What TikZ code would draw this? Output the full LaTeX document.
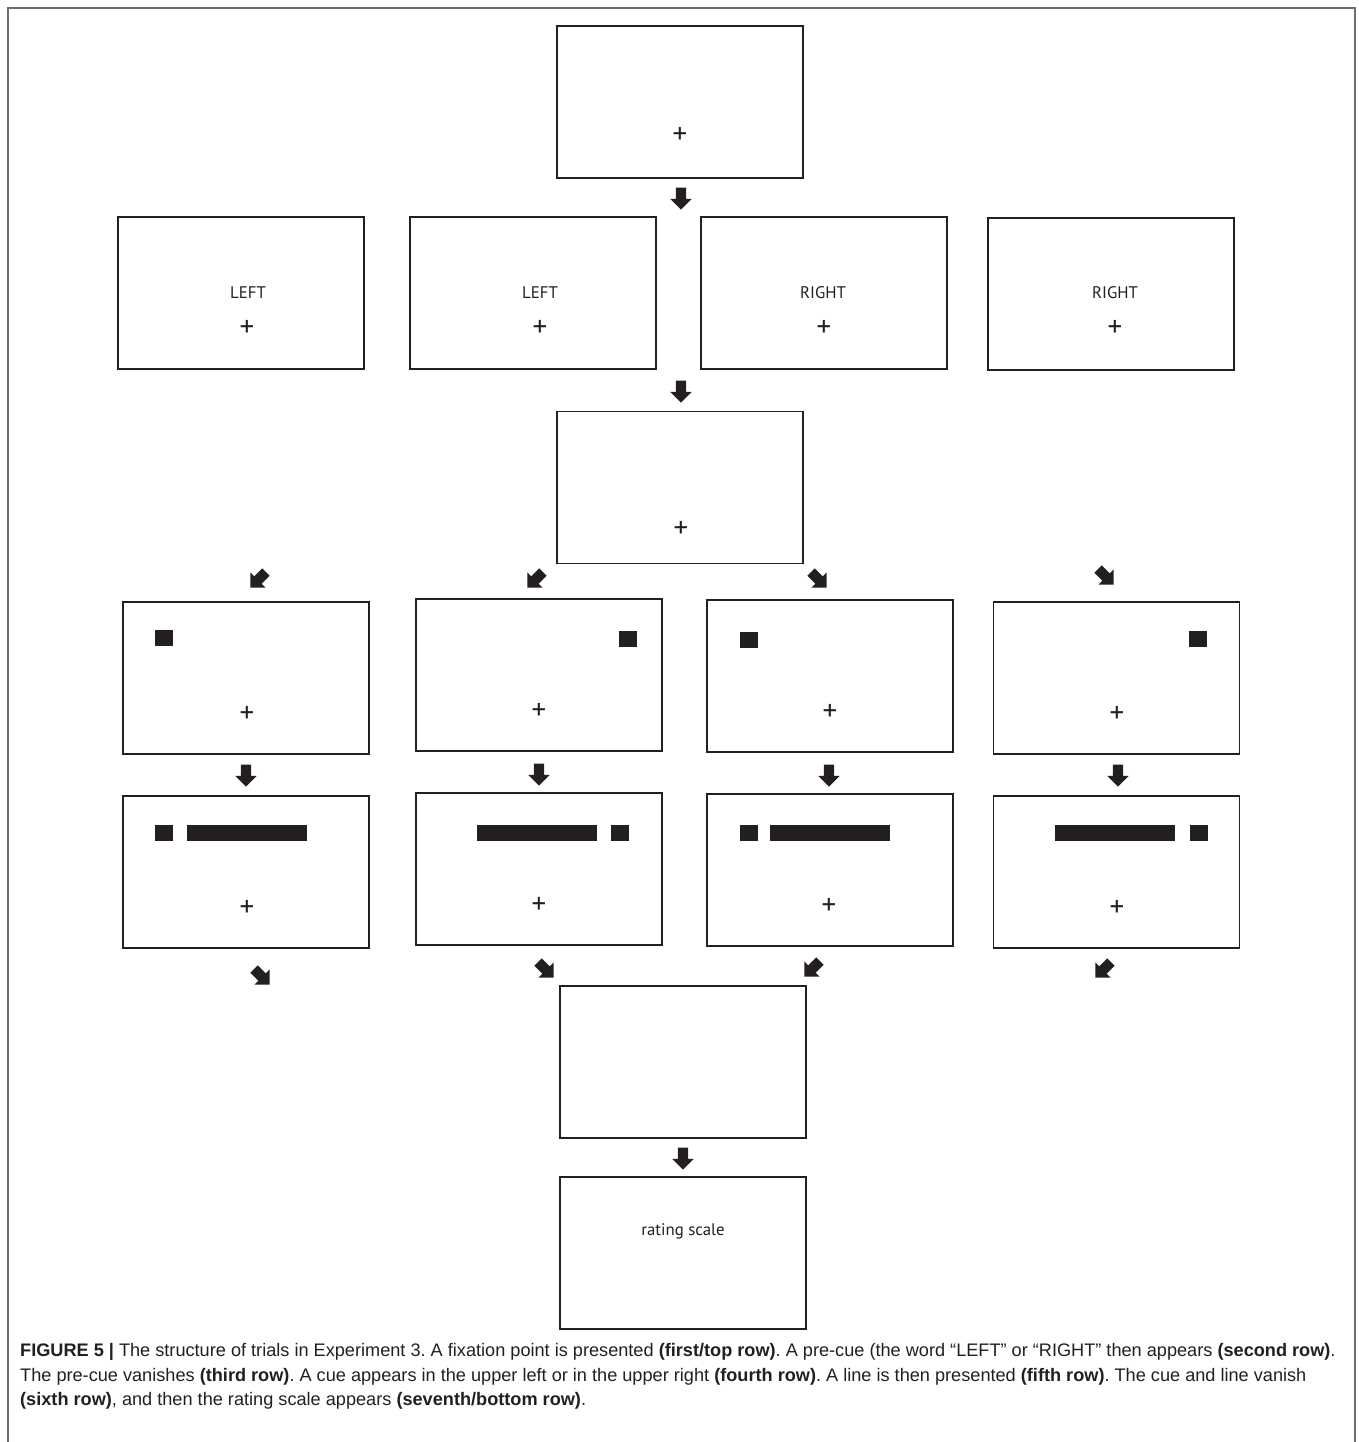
\documentclass[tikz,border=0pt]{standalone}
\usepackage{fontspec}
\setmainfont{PT Sans}
\newfontfamily\capfont{Liberation Sans}
\usetikzlibrary{shapes.arrows}
\definecolor{ink}{HTML}{231F20}
\definecolor{framegray}{HTML}{6D6E71}
\frenchspacing
\tikzset{
	screen/.style={draw=ink, line width=1.6pt, minimum width=246pt, minimum height=152pt, inner sep=0pt},
	fix/.style={font=\fontsize{29}{29}\selectfont, text=ink, inner sep=0pt},
	cuetext/.style={font=\fontsize{16.8}{16.8}\selectfont, text=ink, inner sep=0pt},
	cue/.style={fill=ink, minimum width=18pt, minimum height=16pt, inner sep=0pt},
	cuebar/.style={fill=ink, minimum width=120pt, minimum height=16pt, inner sep=0pt},
	blockarr/.style={single arrow, fill=ink, inner xsep=0pt, inner ysep=5pt, minimum height=22pt, single arrow head extend=5.5pt, single arrow head indent=0pt},
	captext/.style={font=\capfont\fontsize{18.15}{24}\selectfont, text=ink, anchor=base west, inner sep=0pt}
}
\begin{document}
\begin{tikzpicture}[x=1pt,y=-1pt]
		\useasboundingbox (0,0) rectangle (1358,1442);
		\draw[framegray, line width=1.5pt] (8,1442) -- (8,8) -- (1355,8) -- (1355,1442);

		\node[screen] (s1) at (680,102) {};
		\node[fix] (f1) at (680,135) {+};
		\node[blockarr, rotate=-90] (ar1) at (681,196) {};

		\node[screen] (s2a) at (241,293) {};
		\node[cuetext] (w2a) at (248,293) {LEFT};
		\node[fix] (f2a) at (247,328) {+};
		\node[screen] (s2b) at (533,293) {};
		\node[cuetext] (w2b) at (540,293) {LEFT};
		\node[fix] (f2b) at (540,328) {+};
		\node[screen] (s2c) at (824,293) {};
		\node[cuetext] (w2c) at (823,293) {RIGHT};
		\node[fix] (f2c) at (824,328) {+};
		\node[screen] (s2d) at (1111,294) {};
		\node[cuetext] (w2d) at (1115,293) {RIGHT};
		\node[fix] (f2d) at (1115,328) {+};
		\node[blockarr, rotate=-90] (ar2) at (681,389) {};

		\node[screen] (s3) at (680,487.5) {};
		\node[fix] (f3) at (681,529) {+};
		\node[blockarr, rotate=-135] (ar3a) at (260,578) {};
		\node[blockarr, rotate=-135] (ar3b) at (537,578) {};
		\node[blockarr, rotate=-45] (ar3c) at (817,578) {};
		\node[blockarr, rotate=-45] (ar3d) at (1104,575) {};

		\node[screen] (s4a) at (246,678) {};
		\node[cue] (c4a) at (163.5,638) {};
		\node[fix] (f4a) at (247,714) {+};
		\node[screen] (s4b) at (539,675) {};
		\node[cue] (c4b) at (628,639) {};
		\node[fix] (f4b) at (539,711) {+};
		\node[screen] (s4c) at (830,676) {};
		\node[cue] (c4c) at (748.5,640) {};
		\node[fix] (f4c) at (830,712) {+};
		\node[screen] (s4d) at (1116.5,678) {};
		\node[cue] (c4d) at (1198,639) {};
		\node[fix] (f4d) at (1117,714) {+};
		\node[blockarr, rotate=-90] (ar4a) at (246,773) {};
		\node[blockarr, rotate=-90] (ar4b) at (539,772) {};
		\node[blockarr, rotate=-90] (ar4c) at (829,773) {};
		\node[blockarr, rotate=-90] (ar4d) at (1118,773) {};

		\node[screen] (s5a) at (246,872) {};
		\node[cue] (c5a) at (163.5,832.5) {};
		\node[cuebar] (l5a) at (246.5,832.5) {};
		\node[fix] (f5a) at (247,908) {+};
		\node[screen] (s5b) at (539,869) {};
		\node[cuebar] (l5b) at (537,832.5) {};
		\node[cue] (c5b) at (620,832.5) {};
		\node[fix] (f5b) at (539,905) {+};
		\node[screen] (s5c) at (830,870) {};
		\node[cue] (c5c) at (748.5,833) {};
		\node[cuebar] (l5c) at (829.5,833) {};
		\node[fix] (f5c) at (829,906) {+};
		\node[screen] (s5d) at (1116.5,872) {};
		\node[cuebar] (l5d) at (1115,833) {};
		\node[cue] (c5d) at (1198.5,833) {};
		\node[fix] (f5d) at (1117,908) {+};
		\node[blockarr, rotate=-45] (ar5a) at (260,975) {};
		\node[blockarr, rotate=-45] (ar5b) at (544,968) {};
		\node[blockarr, rotate=-135] (ar5c) at (814,967) {};
		\node[blockarr, rotate=-135] (ar5d) at (1105,968) {};

		\node[screen] (s6) at (683,1062) {};
		\node[blockarr, rotate=-90] (ar6) at (683,1156) {};

		\node[screen] (s7) at (683,1253) {};
		\node[cuetext] (w7) at (683,1231) {rating scale};

		\node[captext] (cap1) at (20,1356) {\textbf{FIGURE 5 |} The structure of trials in Experiment 3. A fixation point is presented \textbf{(first/top row)}. A pre-cue (the word “LEFT” or “RIGHT” then appears \textbf{(second row)}.};
		\node[captext] (cap2) at (20,1381) {The pre-cue vanishes \textbf{(third row)}. A cue appears in the upper left or in the upper right \textbf{(fourth row)}. A line is then presented \textbf{(fifth row)}. The cue and line vanish};
		\node[captext] (cap3) at (20,1405) {\textbf{(sixth row)}, and then the rating scale appears \textbf{(seventh/bottom row)}.};
	\end{tikzpicture}
\end{document}
